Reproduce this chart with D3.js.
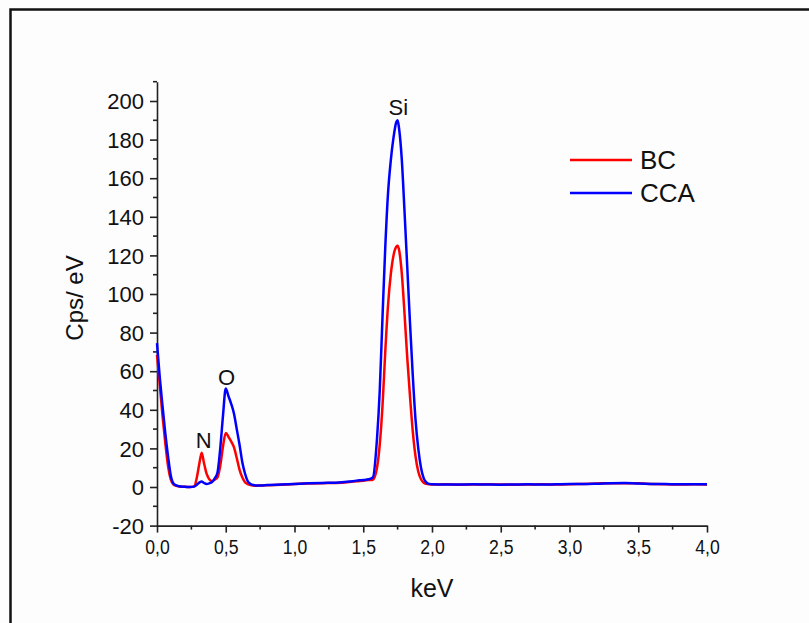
<!DOCTYPE html>
<html>
<head>
<meta charset="utf-8">
<script src="https://cdn.jsdelivr.net/npm/d3@7"></script>
<style>
  html, body { margin: 0; padding: 0; background: #fdfdfd; }
  svg { display: block; }
  text { font-family: "Liberation Sans", Arial, sans-serif; fill: #111; }
</style>
</head>
<body>
<svg id="chart" width="809" height="623"></svg>
<script>
// EDS spectrum: energy grid (keV) shared by both samples
const energy = [
  0, 0.02, 0.04, 0.06, 0.08, 0.10, 0.12, 0.14, 0.16, 0.20, 0.24, 0.27, 0.29, 0.31, 0.325,
  0.34, 0.36, 0.38, 0.40, 0.42, 0.44, 0.46, 0.48, 0.50, 0.52, 0.54, 0.56, 0.58, 0.60,
  0.62, 0.64, 0.66, 0.68, 0.70, 0.72, 0.76, 0.80, 0.90, 1.00, 1.10, 1.20, 1.30, 1.40,
  1.45, 1.50, 1.54, 1.57, 1.60, 1.62, 1.64, 1.66, 1.68, 1.70, 1.72, 1.74, 1.75, 1.76,
  1.78, 1.80, 1.82, 1.84, 1.86, 1.88, 1.90, 1.92, 1.94, 1.96, 1.98, 2.00, 2.10, 2.20,
  2.30, 2.40, 2.50, 2.60, 2.70, 2.80, 2.90, 3.00, 3.10, 3.20, 3.30, 3.40, 3.50, 3.60,
  3.70, 3.80, 3.90, 4.00
];

// Counts per eV, sample BC
const bcCounts = [
  68.5, 53, 37, 23, 11, 4, 1.3, 0.6, 0.3, 0.1, 0, 0.3, 5, 13, 17.8,
  13, 7, 4, 3, 3.8, 5, 11, 21, 28, 26, 23.5, 20.5, 15, 9,
  5, 2.5, 1.5, 1.0, 0.8, 0.7, 0.8, 0.9, 1.2, 1.5, 1.8, 2.0, 2.1, 2.6,
  3.0, 3.3, 3.6, 3.8, 10, 22, 42, 70, 94, 110, 120, 124.5, 125, 123,
  111, 90, 67, 47, 29, 16, 8, 4, 2.2, 1.6, 1.4, 1.3, 1.4, 1.2,
  1.3, 1.4, 1.3, 1.2, 1.3, 1.4, 1.3, 1.4, 1.6, 1.8, 2.0, 2.0, 1.9, 1.6,
  1.4, 1.3, 1.4, 1.3
];

// Counts per eV, sample CCA
const ccaCounts = [
  74.5, 57, 42, 28, 16, 6, 1.8, 0.8, 0.4, 0.1, 0, 0.2, 1.2, 2.4, 2.8,
  2.2, 1.6, 1.9, 2.6, 4.5, 7.5, 20, 37, 51, 47, 43, 38, 30, 22,
  13, 7, 3, 1.6, 1.0, 0.8, 0.8, 1.0, 1.3, 1.6, 1.9, 2.1, 2.2, 2.8,
  3.3, 3.6, 4.0, 5, 25, 50, 88, 124, 152, 169, 181, 189, 190, 186,
  170, 143, 114, 85, 58, 35, 20, 10, 4.5, 2.3, 1.6, 1.4, 1.3, 1.3,
  1.4, 1.3, 1.2, 1.3, 1.4, 1.3, 1.4, 1.5, 1.5, 1.7, 2.0, 2.1, 1.8, 1.6,
  1.5, 1.4, 1.4, 1.4
];

const seriesNames = ["BC", "CCA"];
const seriesColors = ["#ff0000", "#0000ff"];

// Element lines labelled on the spectrum: [symbol, energy keV, label height in cps/eV]
const peakLabels = [
  ["N", 0.34, 20],
  ["O", 0.505, 53],
  ["Si", 1.755, 193]
];

const xTicks = [0, 0.5, 1.0, 1.5, 2.0, 2.5, 3.0, 3.5, 4.0];
const yTicks = [-20, 0, 20, 40, 60, 80, 100, 120, 140, 160, 180, 200];

const svg = d3.select("#chart");

// outer frame
svg.append("rect")
  .attr("x", 10.5).attr("y", 9.5)
  .attr("width", 1000).attr("height", 1000)
  .attr("fill", "none").attr("stroke", "#111").attr("stroke-width", 2.5);

const x = d3.scaleLinear().domain([0, 4]).range([157, 707]);
const y = d3.scaleLinear().domain([-20, 210]).range([525.6, 81.7]);

const commaFmt = v => v.toFixed(1).replace(".", ",");
const plainFmt = v => String(v);   // keeps an ASCII hyphen for negatives

// minor ticks
const xMinor = d3.range(0.25, 4, 0.5);
const yMinor = d3.range(-10, 211, 20);

const xAxis = svg.append("g")
  .attr("transform", `translate(0,${y(-20)})`)
  .call(d3.axisBottom(x).tickValues(xTicks).tickFormat(commaFmt).tickSize(7).tickSizeOuter(0).tickPadding(6));
xAxis.append("g").selectAll("line").data(xMinor).join("line")
  .attr("x1", d => x(d)).attr("x2", d => x(d)).attr("y1", 0).attr("y2", 4);

const yAxis = svg.append("g")
  .attr("transform", `translate(${x(0)},0)`)
  .call(d3.axisLeft(y).tickValues(yTicks).tickFormat(plainFmt).tickSize(7).tickSizeOuter(0).tickPadding(6));
yAxis.append("g").selectAll("line").data(yMinor).join("line")
  .attr("y1", d => y(d)).attr("y2", d => y(d)).attr("x1", 0).attr("x2", -4);

[xAxis, yAxis].forEach(g => {
  g.select(".domain").attr("stroke", "#222").attr("stroke-width", 1.6);
  g.selectAll("line").attr("stroke", "#222").attr("stroke-width", 1.6);
  g.selectAll(".tick text").attr("fill", "#222").attr("font-family", "Liberation Sans, Arial, sans-serif");
});
xAxis.selectAll(".tick text").attr("font-size", 21)
  .attr("transform", "scale(0.84,1)");
yAxis.selectAll(".tick text").attr("font-size", 22).attr("dy", "0.35em");

// axis titles
svg.append("text")
  .attr("x", x(2)).attr("y", 597)
  .attr("text-anchor", "middle").attr("font-size", 25)
  .text("keV");
svg.append("text")
  .attr("transform", `translate(83,298) rotate(-90)`)
  .attr("text-anchor", "middle").attr("font-size", 24)
  .text("Cps/ eV");

// spectra
const line = d3.line().x(d => x(d[0])).y(d => y(d[1])).curve(d3.curveMonotoneX);
[bcCounts, ccaCounts].forEach((vals, i) => {
  svg.append("path")
    .datum(energy.map((e, k) => [e, vals[k]]))
    .attr("d", line)
    .attr("fill", "none")
    .attr("stroke", seriesColors[i])
    .attr("stroke-width", 2.5)
    .attr("stroke-linejoin", "round");
});

// element labels
svg.append("g").selectAll("text").data(peakLabels).join("text")
  .attr("x", d => x(d[1])).attr("y", d => y(d[2]))
  .attr("text-anchor", "middle").attr("font-size", 22)
  .text(d => d[0]);

// legend
const legend = svg.append("g");
seriesNames.forEach((name, i) => {
  const ly = 160 + i * 33;
  legend.append("line")
    .attr("x1", 570).attr("x2", 632).attr("y1", ly).attr("y2", ly)
    .attr("stroke", seriesColors[i]).attr("stroke-width", 2.5);
  legend.append("text")
    .attr("x", 640).attr("y", ly).attr("dy", "0.36em")
    .attr("font-size", 26)
    .text(name);
});
</script>
</body>
</html>
